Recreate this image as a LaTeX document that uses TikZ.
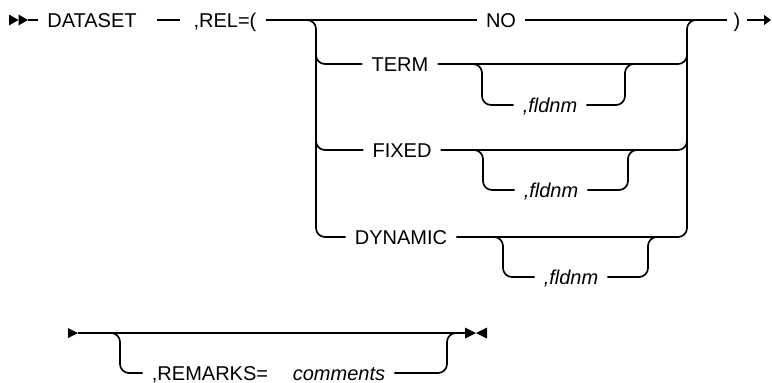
\documentclass[tikz,border=0pt]{standalone}
\usepackage{fontspec}
\setmainfont{Liberation Sans}
\usetikzlibrary{arrows.meta}
\begin{document}
\begin{tikzpicture}[x=1pt,y=-1pt,
    rail/.style={line width=1.7pt,rounded corners=9pt},
    kw/.style={inner xsep=9pt,inner ysep=0pt,text height=14pt,text depth=0pt,
        font=\fontsize{20}{24}\selectfont},
    var/.style={kw,font=\fontsize{20}{24}\selectfont\itshape}]
    \useasboundingbox (0,0) rectangle (772,383);
    % first line
    \fill (9,14.5) -- (18.5,20) -- (9,25.5) -- cycle;
    \fill (18.5,14.5) -- (28,20) -- (18.5,25.5) -- cycle;
    \coordinate (s0) at (28,20);
    \node[kw] (dataset) at (92,20) {DATASET};
    \node[kw] (rel) at (225,20) {,REL=(};
    \node[kw] (no) at (501,20) {NO};
    \node[kw,inner xsep=6pt] (close) at (737,20) {)};
    \coordinate (e0) at (771,20);
    \draw[rail] (s0) -- (dataset);
    \draw[rail,shorten <=11pt,shorten >=4pt] (dataset) -- (rel);
    \draw[rail] (rel) -- (no);
    \draw[rail] (no) -- (close);
    \draw[rail,-{Triangle[length=7pt,width=10pt]}] (close) -- (e0);
    % choices
    \node[kw] (term) at (400,64) {TERM};
    \node[kw] (fixed) at (402,150) {FIXED};
    \node[kw] (dynamic) at (401,237) {DYNAMIC};
    \node[var] (fld1) at (550,105) {,fldnm};
    \node[var] (fld2) at (551,190) {,fldnm};
    \node[var] (fld3) at (571,277) {,fldnm};
    \coordinate (jl) at (316,20);
    \coordinate (jr) at (687,20);
    \draw[rail] ([xshift=-10pt]jl) -- (jl) |- (dynamic);
    \draw[rail] (316,50) |- (term);
    \draw[rail] (316,136) |- (fixed);
    \draw[rail] (dynamic) -| (jr) -- ++(10,0);
    \draw[rail] (term) -| (687,50);
    \draw[rail] (fixed) -| (687,136);
    % optional fldnm
    \draw[rail] (472,64) -- ++(10,0) |- (fld1);
    \draw[rail] (fld1) -| (625,64) -- ++(10,0);
    \draw[rail] (473,150) -- ++(10,0) |- (fld2);
    \draw[rail] (fld2) -| (628,150) -- ++(10,0);
    \draw[rail] (493,237) -- ++(10,0) |- (fld3);
    \draw[rail] (fld3) -| (648,237) -- ++(10,0);
    % second line
    \fill (68,328) -- (78,333) -- (68,338) -- cycle;
    \coordinate (b0) at (78,333);
    \coordinate (b1) at (465,333);
    \draw[rail] (b0) -- (b1);
    \node[kw] (remarks) at (210,373) {,REMARKS=};
    \node[var] (comments) at (339,373) {comments};
    \draw[rail] (110,333) -- ++(10,0) |- (remarks);
    \draw[rail] (comments) -| (447,333) -- ++(10,0);
    \fill (465,327.5) -- (476,333) -- (465,338.5) -- cycle;
    \fill (487,327.5) -- (476,333) -- (487,338.5) -- cycle;
\end{tikzpicture}
\end{document}
